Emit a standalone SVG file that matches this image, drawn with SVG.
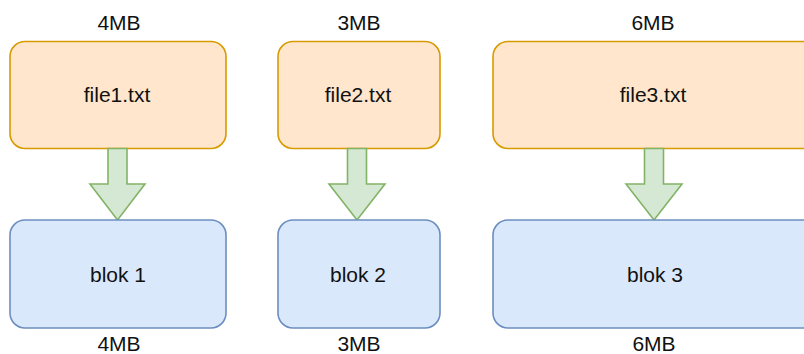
<svg xmlns="http://www.w3.org/2000/svg" width="804" height="354" viewBox="0 0 804 354">
  <style>
    .file { fill: #ffe6cc; stroke: #d79b00; stroke-width: 1.6; }
    .blok { fill: #dae8fc; stroke: #6c8ebf; stroke-width: 1.6; }
    .arrow { fill: #d5e8d4; stroke: #82b366; stroke-width: 1.6; stroke-linejoin: miter; }
    text { font-family: "Liberation Sans", Arial, Helvetica, sans-serif; font-size: 21px; fill: #111; text-anchor: middle; }
  </style>
  <rect width="804" height="354" fill="#ffffff"/>

  <!-- size labels above the files -->
  <g id="labels-top">
    <text x="119" y="30">4MB</text>
    <text x="359" y="30">3MB</text>
    <text x="653" y="30">6MB</text>
  </g>

  <!-- source files -->
  <g id="file1">
    <rect class="file" x="10" y="41.5" width="216" height="107" rx="15" ry="15"/>
    <text x="117" y="102">file1.txt</text>
  </g>
  <g id="file2">
    <rect class="file" x="278" y="41.5" width="162" height="107" rx="15" ry="15"/>
    <text x="358" y="102">file2.txt</text>
  </g>
  <g id="file3">
    <rect class="file" x="493" y="41.5" width="330" height="107" rx="15" ry="15"/>
    <text x="653" y="102">file3.txt</text>
  </g>

  <!-- block arrows from each file to its block -->
  <g id="connectors">
    <path class="arrow" d="M108,148.5 L127,148.5 L127,184 L145,184 L117.5,220 L90,184 L108,184 Z"/>
    <path class="arrow" d="M347.5,148.5 L366.5,148.5 L366.5,184 L385,184 L357,220 L329,184 L347.5,184 Z"/>
    <path class="arrow" d="M644.5,148.5 L663.5,148.5 L663.5,184 L682,184 L654,220 L626,184 L644.5,184 Z"/>
  </g>

  <!-- resulting blocks -->
  <g id="blok1">
    <rect class="blok" x="10" y="220" width="216" height="108" rx="15" ry="15"/>
    <text x="118" y="282">blok 1</text>
  </g>
  <g id="blok2">
    <rect class="blok" x="278" y="220" width="162" height="108" rx="15" ry="15"/>
    <text x="358" y="282">blok 2</text>
  </g>
  <g id="blok3">
    <rect class="blok" x="493" y="220" width="330" height="108" rx="15" ry="15"/>
    <text x="655" y="282">blok 3</text>
  </g>

  <!-- size labels below the blocks -->
  <g id="labels-bottom">
    <text x="119" y="351">4MB</text>
    <text x="359" y="351">3MB</text>
    <text x="654" y="351">6MB</text>
  </g>
</svg>
